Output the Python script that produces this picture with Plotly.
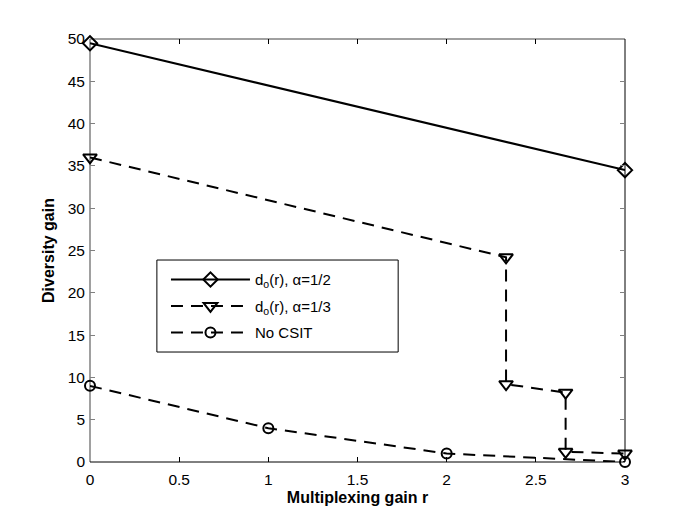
import plotly.graph_objects as go

# Data
r_half = [0, 3]
d_half = [49.5, 34.5]

r_third = [0, 2.333, 2.333, 2.667, 2.667, 3]
d_third = [36, 24.2, 9.2, 8.2, 1.2, 1.0]

r_nocsit = [0, 1, 2, 3]
d_nocsit = [9, 4, 1, 0]

x_ticks = [0, 0.5, 1, 1.5, 2, 2.5, 3]
x_ticklabels = ["0", "0.5", "1", "1.5", "2", "2.5", "3"]
y_ticks = list(range(0, 51, 5))

FONT = "Liberation Sans, Arial, Helvetica, sans-serif"

fig = go.Figure()

fig.add_trace(go.Scatter(
    x=r_half, y=d_half, mode="lines+markers",
    name="d<sub>o</sub>(r), \u03b1=1/2", legendgroup="a",
    line=dict(color="black", width=2),
    marker=dict(symbol="diamond-open", size=11, color="black", line=dict(width=2)),
    cliponaxis=False
))
fig.add_trace(go.Scatter(
    x=r_third, y=d_third, mode="lines+markers",
    name="d<sub>o</sub>(r), \u03b1=1/3", legendgroup="b",
    line=dict(color="black", width=2, dash="12px,8px"),
    marker=dict(symbol="triangle-down-open", size=12, color="black", line=dict(width=2)),
    cliponaxis=False
))
fig.add_trace(go.Scatter(
    x=r_nocsit, y=d_nocsit, mode="lines+markers",
    name="No CSIT", legendgroup="c",
    line=dict(color="black", width=2, dash="12px,8px"),
    marker=dict(symbol="circle-open", size=10, color="black", line=dict(width=2)),
    cliponaxis=False
))

# MATLAB-like frame: left/top gray, right/bottom black
frame = [
    dict(x0=0, x1=0, y0=0, y1=1, color="#808080", width=1.5),
    dict(x0=0, x1=1, y0=1, y1=1, color="#808080", width=1.5),
    dict(x0=1, x1=1, y0=0, y1=1, color="black", width=1),
    dict(x0=0, x1=1, y0=0, y1=0, color="black", width=1),
]
for f in frame:
    fig.add_shape(type="line", xref="paper", yref="paper",
                  x0=f["x0"], x1=f["x1"], y0=f["y0"], y1=f["y1"],
                  line=dict(color=f["color"], width=f["width"]), layer="below")

# legend box (wider than the entries, as in the original)
fig.add_shape(type="rect", xref="paper", yref="paper",
              x0=0.125, x1=0.576, y0=0.26, y1=0.4775,
              fillcolor="white", line=dict(color="black", width=1), layer="above")

fig.update_layout(
    width=684, height=513,
    margin=dict(l=82, r=67, t=31, b=59),
    paper_bgcolor="white", plot_bgcolor="white",
    font=dict(family=FONT, size=15, color="black"),
    showlegend=True,
    legend=dict(
        x=0.142, y=0.470, xanchor="left", yanchor="top",
        bgcolor="rgba(0,0,0,0)", borderwidth=0,
        font=dict(size=15), itemwidth=79,
        traceorder="grouped", tracegroupgap=4,
    ),
)

fig.update_xaxes(
    range=[0, 3], tickvals=x_ticks, ticktext=x_ticklabels,
    ticks="inside", ticklen=5, tickcolor="black", mirror="ticks",
    showline=False, showgrid=False, zeroline=False,
    tickfont=dict(size=15.5), ticklabelstandoff=6,
    title=dict(text="<b>Multiplexing gain r</b>", font=dict(size=16), standoff=5),
)
fig.update_yaxes(
    range=[0, 50], tickvals=y_ticks,
    ticks="inside", ticklen=5, tickcolor="#808080", mirror="ticks",
    showline=False, showgrid=False, zeroline=False,
    tickfont=dict(size=15.5), ticklabelstandoff=4,
    title=dict(text="<b>Diversity gain</b>", font=dict(size=16), standoff=9),
)

fig.write_html("out.html")
